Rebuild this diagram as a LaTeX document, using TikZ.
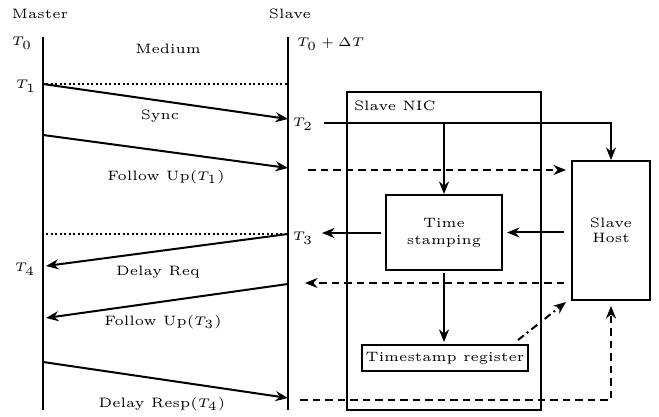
\documentclass[tikz,border=0pt]{standalone}
\usetikzlibrary{arrows.meta}
\begin{document}
\begin{tikzpicture}[x=0.4pt,y=-0.4pt, line width=0.8pt, font=\fontsize{5.45}{6.2}\selectfont,
  tip/.style={-{Stealth[length=5pt,width=4pt]}},
  lbl/.style={inner sep=0pt},
  box/.style={draw, line width=0.8pt, inner sep=0pt, align=center},
  dotline/.style={dash pattern=on 0.8pt off 1pt},
  dashline/.style={dash pattern=on 3pt off 2pt},
  dashdotline/.style={dash pattern=on 3pt off 1.5pt on 0.8pt off 1.5pt},
]
\useasboundingbox (0,0) rectangle (659,417);
% time lines
\coordinate (mtop) at (43,37);
\coordinate (mbot) at (43,410);
\coordinate (stop) at (288,37);
\coordinate (sbot) at (288,410);
\draw (mtop) -- (mbot);
\draw (stop) -- (sbot);
% headers
\node[lbl] (master) at (40,14) {Master};
\node[lbl] (slave) at (290,14) {Slave};
\node[lbl] (medium) at (168,49) {Medium};
\node[lbl] (t0) at (22,43) {$T_0$};
\node[lbl, anchor=west] (t0d) at (296,44) {$T_0 + \Delta T$};
\node[lbl] (t1) at (26,86) {$T_1$};
\node[lbl] (t2) at (303,124) {$T_2$};
\node[lbl] (t3) at (303,238) {$T_3$};
\node[lbl] (t4) at (25,269) {$T_4$};
% message endpoints
\coordinate (m1) at (43,84);
\coordinate (d1) at (288,84);
\coordinate (s2) at (288,119);
\coordinate (m2) at (43,135);
\coordinate (s3) at (288,168);
\coordinate (s4) at (288,234);
\coordinate (d4) at (46,234);
\coordinate (m4) at (46,266);
\coordinate (s5) at (288,284);
\coordinate (m5) at (46,318);
\coordinate (m6) at (43,362);
\coordinate (s6) at (288,398);
\draw[dotline] (m1) ++(3,0) -- (d1);
\draw[dotline] (d4) -- (s4);
\draw[tip] (m1) -- (s2);
\draw[tip] (m2) -- (s3);
\draw[tip] (s4) -- (m4);
\draw[tip] (s5) -- (m5);
\draw[tip] (m6) -- (s6);
\node[lbl] (sync) at (160,116) {Sync};
\node[lbl] (fu1) at (166,177) {Follow Up($T_1$)};
\node[lbl] (dreq) at (158,272) {Delay Req};
\node[lbl] (fu3) at (163,322) {Follow Up($T_3$)};
\node[lbl] (dresp) at (162,404) {Delay Resp($T_4$)};
% slave side boxes
\node[box, minimum width=77.6pt, minimum height=127.2pt] (nic) at (444,251) {};
\node[lbl, anchor=west] (nictxt) at (353,106) {Slave NIC};
\node[box, minimum width=46.4pt, minimum height=30pt] (ts) at (444,232.5) {Time\\[0.5pt]stamping};
\node[box, minimum width=31.2pt, minimum height=55.6pt] (host) at (611,230.5) {Slave\\Host};
\node[box, minimum width=66.4pt, minimum height=10.4pt] (reg) at (445,358) {Timestamp register};
% slave side connectors
\coordinate (t2s) at (324,123);
\draw[tip] (t2s) -| (host.north);
\draw[tip] (ts.north |- t2s) -- (ts.north);
\coordinate (fu1s) at (308,170);
\draw[dashline, tip, shorten >=2pt] (fu1s) -- (fu1s -| host.west);
\draw[tip, shorten <=2.8pt, shorten >=1.6pt] (host.west |- ts.east) -- (ts.east);
\coordinate (t3e) at (322,233);
\draw[tip, shorten <=1.6pt] (ts.west |- t3e) -- (t3e);
\coordinate (dqe) at (305,283);
\draw[dashline, tip, shorten <=2.8pt] (dqe -| host.west) -- (dqe);
\draw[tip, shorten <=0.8pt, shorten >=0.8pt] (ts.south) -- (reg.north -| ts.south);
\coordinate (dd1) at (518,340);
\coordinate (dd2) at (566,302);
\draw[dashdotline, tip] (dd1) -- (dd2);
\coordinate (drs) at (300,400);
\draw[dashline, tip, shorten >=2pt] (drs) -| (host.south);
\end{tikzpicture}
\end{document}
